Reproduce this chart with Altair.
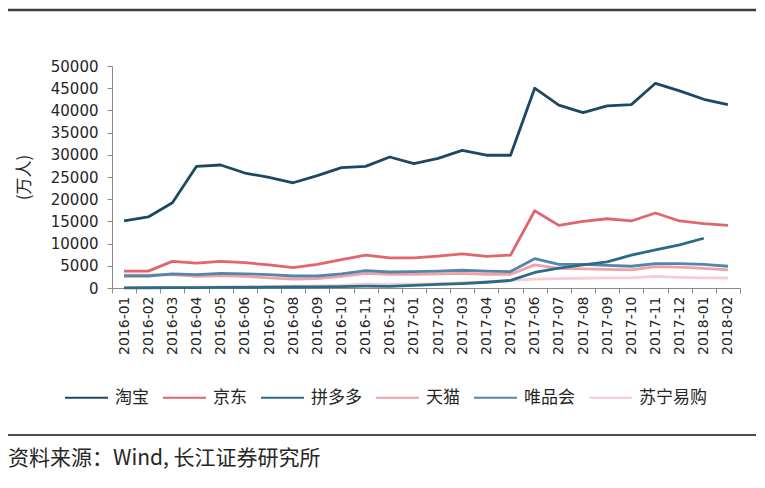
import altair as alt
import pandas as pd

months = ["2016-01", "2016-02", "2016-03", "2016-04", "2016-05", "2016-06",
          "2016-07", "2016-08", "2016-09", "2016-10", "2016-11", "2016-12",
          "2017-01", "2017-02", "2017-03", "2017-04", "2017-05", "2017-06",
          "2017-07", "2017-08", "2017-09", "2017-10", "2017-11", "2017-12",
          "2018-01", "2018-02"]

names = ["淘宝", "京东", "拼多多", "天猫", "唯品会", "苏宁易购"]
colors = ["#1c4863", "#e0666d", "#2b6b86", "#f0a0a6", "#5585aa", "#f6cdd1"]

taobao = [15100, 16000, 19200, 27400, 27700, 25900, 24900, 23700, 25300, 27100, 27400, 29500,
          28000, 29200, 31000, 29900, 29900, 45000, 41200, 39500, 41000, 41300, 46100, 44400,
          42500, 41300]
jd = [3800, 3800, 6000, 5600, 6000, 5700, 5200, 4600, 5300, 6400, 7400, 6800,
      6800, 7200, 7700, 7100, 7400, 17400, 14100, 15000, 15600, 15100, 16900, 15100,
      14500, 14100]
pdd = [50, 60, 80, 100, 120, 150, 180, 220, 260, 320, 400, 380,
       600, 800, 1000, 1300, 1700, 3500, 4500, 5200, 5900, 7400, 8600, 9700,
       11200, None]
tmall = [2900, 2900, 3000, 2600, 2800, 2600, 2300, 2000, 2100, 2600, 3300, 3100,
         3100, 3200, 3300, 3100, 3100, 5200, 4400, 4300, 4200, 4100, 4800, 4700,
         4400, 4100]
vip = [2700, 2700, 3200, 3000, 3300, 3200, 3000, 2700, 2700, 3200, 3900, 3600,
       3700, 3800, 4000, 3800, 3700, 6600, 5300, 5300, 5100, 4900, 5500, 5500,
       5300, 4900]
suning = [100, 100, 150, 200, 250, 300, 350, 400, 500, 600, 900, 800,
          850, 1000, 1200, 1400, 1700, 2000, 2100, 2200, 2300, 2300, 2600, 2400,
          2300, 2250]

y_ticks = [0, 5000, 10000, 15000, 20000, 25000, 30000, 35000, 40000, 45000, 50000]
y_title = "(万人)"
source_text = "资料来源：Wind, 长江证券研究所"

series = {"淘宝": taobao, "京东": jd, "拼多多": pdd, "天猫": tmall,
          "唯品会": vip, "苏宁易购": suning}
draw_order = ["苏宁易购", "天猫", "唯品会", "拼多多", "京东", "淘宝"]

rows = []
for name in draw_order:
    for m, v in zip(months, series[name]):
        if v is not None:
            rows.append({"month": m, "name": name, "value": v})
df = pd.DataFrame(rows)

NUM_FONT = "DejaVu Sans"
CJK_FONT = "Noto Sans CJK SC"
AXIS_COLOR = "#8a8a8a"
TEXT_COLOR = "#262626"

lines = alt.Chart(df).mark_line(strokeWidth=2.8, strokeJoin="round").encode(
    x=alt.X("month:O", sort=months, bandPosition=0.5,
            scale=alt.Scale(type="band", domain=months, paddingInner=0, paddingOuter=0),
            axis=alt.Axis(title=None, labelAngle=-90, tickBand="extent", tickSize=5,
                          labelFont=NUM_FONT, labelFontSize=14, labelColor=TEXT_COLOR,
                          domainColor=AXIS_COLOR, tickColor=AXIS_COLOR, grid=False,
                          labelPadding=3)),
    y=alt.Y("value:Q", scale=alt.Scale(domain=[0, 50000], nice=False),
            axis=alt.Axis(values=y_ticks, format="d", tickSize=5, labelPadding=9,
                          labelFont=NUM_FONT, labelFontSize=15, labelColor=TEXT_COLOR,
                          domainColor=AXIS_COLOR, tickColor=AXIS_COLOR, grid=False,
                          title=y_title, titleFont=CJK_FONT, titleFontSize=17,
                          titleFontWeight="normal", titleColor=TEXT_COLOR,
                          titleX=-88, titleY=111, titleAngle=-90,
                          titleAlign="center", titleBaseline="middle")),
    color=alt.Color("name:N", scale=alt.Scale(domain=names, range=colors),
                    legend=alt.Legend(title=None, orient="none", legendX=-48, legendY=309,
                                      direction="horizontal", columns=6,
                                      symbolType="stroke", symbolSize=1849,
                                      symbolStrokeWidth=2, labelFont=CJK_FONT,
                                      labelFontSize=17, labelColor=TEXT_COLOR,
                                      labelOffset=6, columnPadding=10, padding=0)),
)

one = pd.DataFrame({"t": [source_text]})

top_rule = alt.Chart(one).mark_rule(color="#3c3c3c", strokeWidth=2.5).encode(
    x=alt.value(-104), x2=alt.value(644), y=alt.value(-56))
bottom_rule = alt.Chart(one).mark_rule(color="#111111", strokeWidth=1.5).encode(
    x=alt.value(-104), x2=alt.value(644), y=alt.value(369))
source = alt.Chart(one).mark_text(align="left", baseline="middle", font=CJK_FONT,
                                  fontSize=21, color=TEXT_COLOR).encode(
    x=alt.value(-104), y=alt.value(393), text="t:N")

chart = alt.layer(lines, top_rule, bottom_rule, source).properties(
    width=628, height=222,
    autosize=alt.AutoSizeParams(type="none"),
    padding={"left": 104, "top": 58, "right": 16, "bottom": 184},
    background="white",
).configure_view(stroke=None)

chart.save("out.html", embed_options={"renderer": "svg", "actions": False})
